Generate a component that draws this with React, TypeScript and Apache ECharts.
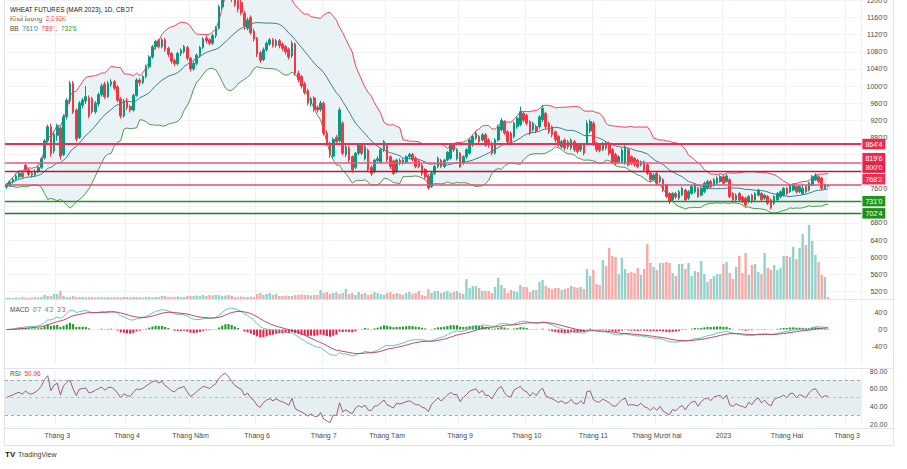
import React, { useEffect, useRef } from 'react';
import * as echarts from 'echarts';

// Daily candles: [open, close, low, high]
const candles: number[][] = [
  [764,769,760,773],[769,776,766,779],[776,782,772,786],[782,790,778,796],[788,796,784,800],[796,788,784,800],[815,804,800,818],[804,794,790,808],
  [796,792,786,800],[792,800,788,805],[800,810,796,814],[810,830,806,834],[832,872,828,876],[872,905,868,910],[905,842,835,912],[848,888,842,894],
  [885,905,872,912],[902,836,828,906],[840,928,836,934],[928,967,922,972],[965,1006,958,1012],[1006,940,935,1012],[944,876,870,948],[880,960,876,965],
  [955,967,948,972],[965,975,958,1000],[972,930,925,978],[970,940,935,975],[940,960,935,965],[958,980,952,985],[980,1000,975,1006],[1004,975,970,1010],
  [975,1006,972,1012],[1004,1010,998,1016],[1010,995,990,1014],[998,967,962,1002],[970,930,924,974],[930,965,926,970],[965,950,944,972],[952,944,938,956],
  [944,978,940,982],[978,1014,975,1018],[1014,1008,1000,1018],[1008,1022,1004,1026],[1022,1045,1018,1050],[1045,1068,1040,1072],[1068,1092,1064,1096],[1092,1104,1086,1108],
  [1106,1092,1088,1110],[1092,1108,1088,1112],[1108,1086,1080,1112],[1088,1074,1068,1092],[1076,1058,1052,1080],[1060,1052,1046,1064],[1052,1076,1048,1080],[1076,1084,1070,1088],
  [1080,1092,1076,1096],[1090,1065,1060,1094],[1065,1040,1034,1068],[1040,1053,1036,1058],[1053,1072,1048,1076],[1072,1090,1066,1094],[1090,1110,1086,1114],[1112,1106,1100,1118],
  [1108,1100,1095,1112],[1100,1118,1096,1122],[1118,1135,1112,1140],[1135,1185,1132,1190],[1185,1220,1180,1230],[1222,1245,1215,1260],[1245,1230,1222,1262],[1228,1210,1196,1238],
  [1215,1190,1185,1220],[1200,1180,1172,1210],[1195,1172,1166,1205],[1170,1140,1131,1176],[1135,1154,1130,1160],[1160,1125,1120,1165],[1128,1110,1104,1134],[1112,1075,1068,1115],
  [1078,1060,1054,1082],[1062,1085,1058,1090],[1085,1100,1080,1104],[1098,1108,1094,1112],[1108,1095,1090,1112],[1095,1106,1090,1110],[1106,1094,1088,1110],[1098,1088,1082,1102],
  [1092,1080,1074,1096],[1086,1068,1062,1090],[1070,1100,1066,1106],[1098,1030,1024,1102],[1030,1015,1008,1036],[1022,1000,994,1026],[1005,985,980,1010],[990,960,955,994],
  [958,970,952,975],[972,945,940,976],[950,944,938,955],[945,960,940,965],[960,890,884,964],[890,866,860,896],[866,840,832,870],[836,875,830,880],
  [880,870,864,886],[872,944,868,950],[913,843,838,918],[840,858,834,862],[855,827,822,860],[835,804,798,838],[810,843,806,846],[843,862,838,866],
  [862,843,838,866],[830,858,826,862],[850,805,800,854],[810,795,790,815],[800,827,796,830],[826,830,820,836],[822,851,818,856],[851,870,846,874],
  [860,827,822,864],[835,812,806,838],[825,796,792,828],[800,827,796,830],[827,820,815,831],[820,827,816,831],[822,835,818,838],[835,840,830,844],
  [840,828,824,844],[832,812,808,836],[825,812,808,828],[815,795,790,818],[805,788,783,808],[790,762,758,794],[765,796,762,800],[796,812,792,816],
  [812,831,808,835],[827,812,808,830],[812,827,808,830],[827,845,824,848],[831,862,828,866],[862,851,846,866],[830,851,826,855],[843,812,808,846],
  [820,835,816,838],[835,851,830,855],[843,874,840,878],[862,882,858,886],[878,890,874,894],[882,870,866,886],[874,886,870,890],[886,862,858,890],
  [874,862,856,878],[866,843,838,870],[843,874,840,878],[874,905,870,910],[898,920,894,925],[917,890,886,920],[893,870,865,897],[890,866,862,894],
  [882,913,878,917],[905,925,900,930],[910,940,906,952],[936,920,915,940],[932,913,908,936],[917,890,885,920],[898,913,894,917],[905,895,890,910],
  [905,928,900,932],[921,948,916,956],[936,905,900,940],[913,893,888,917],[905,886,880,908],[893,874,868,896],[882,862,858,886],[858,870,854,874],
  [874,855,850,878],[870,858,852,874],[855,874,850,878],[870,851,846,874],[862,847,842,866],[851,862,846,866],[862,843,838,866],[866,913,862,920],
  [895,917,890,922],[913,866,860,918],[866,851,846,870],[862,850,845,866],[852,866,848,870],[866,855,850,870],[866,843,838,870],[851,823,818,855],
  [840,820,815,844],[823,835,818,838],[823,850,820,855],[820,858,816,862],[851,816,812,855],[835,820,815,838],[831,816,812,834],[827,812,808,830],
  [816,823,812,826],[823,804,800,826],[816,796,792,820],[796,781,776,800],[781,792,778,796],[796,773,769,800],[777,788,773,792],[781,757,752,785],
  [769,742,738,772],[749,730,724,752],[734,749,730,752],[749,741,736,753],[738,753,734,757],[745,761,742,765],[757,734,730,760],[738,753,734,757],
  [749,765,746,769],[753,769,750,773],[761,742,738,765],[745,761,742,764],[753,773,750,777],[761,777,758,781],[777,765,761,781],[769,781,765,785],
  [773,785,770,789],[777,788,774,792],[788,773,769,792],[777,790,774,794],[781,742,738,785],[749,734,730,752],[734,745,730,749],[749,734,730,752],
  [741,730,726,744],[738,722,718,741],[730,742,726,745],[745,730,726,748],[734,749,730,752],[745,757,742,760],[749,734,730,752],[738,745,734,748],
  [742,726,722,745],[734,716,712,737],[726,742,722,745],[734,749,730,752],[742,753,738,756],[745,761,742,764],[761,749,745,764],[753,769,750,772],
  [757,769,754,772],[765,753,749,768],[753,765,750,768],[749,761,746,770],[765,753,749,768],[757,773,754,776],[769,788,766,792],[781,792,778,796],
  [788,777,773,792],[785,761,757,788],[761,769,758,772],[767,766,764,769]
];

// Volume in thousands of contracts
const volumesK: number[] = [
  1,1.5,1,1.5,1,2,1.5,1,1.5,2,1.5,2,
  4,3,3,5,5,8,3,
  2,2,3,2,2,
  2,1.5,2,2,1.5,2,2,1.5,2,1.5,2,2,1.5,2,2,1.5,2,2,2,1.5,2,2,1.5,2,2,
  3,3,2,
  2,2,2.5,2,2,
  3,3,3,3.5,3,
  4,3,4,3.5,4,4,3,3.5,4,3,
  2,2,2.5,2,2,2.5,2,
  5,6,4,5,6,4,5,
  3,3,3.5,3,3,
  4,4,4.5,4,4,3.5,4,4,
  9,
  6,7,5,6,7,5,6,
  10,
  5,6,4,7,5,6,4,5,7,6,5,4,6,7,5,6,5,4,6,7,5,6,
  8,
  4,3,10,
  6,8,8,6,7,8,6,
  7,8,6,5,
  20,11,13,13,11,8,8,8,6,12,21,14,11,6,9,8,7,14,12,12,7,9,9,17,19,13,11,10,11,11,9,10,11,13,12,11,12,10,
  30,23,29,15,14,39,33,51,43,42,25,41,30,26,27,26,31,24,30,55,36,32,29,36,36,37,36,26,23,35,35,30,36,23,28,27,38,25,
  17,20,23,25,25,35,37,26,20,32,43,26,46,24,34,35,27,25,46,31,29,34,29,31,43,43,42,52,40,51,65,54,74,58,44,37,24,22,2.1
];

const levelValues = [864.5, 819.75, 800, 768.25, 731, 702.5];
const levelLabels = ["864'4", "819'6", "800'0", "768'2", "731'0", "702'4"];

const monthTickIndex = [16, 38, 58, 79, 100, 120, 143, 164, 185, 205, 226, 246, 265];
const monthTickLabels = ['Tháng 3', 'Tháng 4', 'Tháng Năm', 'Tháng 6', 'Tháng 7', 'Tháng Tám', 'Tháng 9', 'Tháng 10', 'Tháng 11', 'Tháng Mười hai', '2023', 'Tháng Hai', 'Tháng 3'];

const titleText = 'WHEAT FUTURES (MAR 2023), 1D, CBOT';
const volumeLabel = 'Khối lượng';
const volumeLast = '2.096K';
const bbLegend = ["761'0", "789'1", "732'6"];
const macdLegend = ["0'7", "4'2", "3'3"];
const rsiLegend = '50.96';
// price-scale labels that sit under a level badge in the reference
const hiddenPriceLabels = [840, 800, 720];

// styling
const CATEGORY_COUNT = 270;
const UP = '#089981';
const DOWN = '#f23645';
const VUP = '#92d2cc';
const VDOWN = '#f7a9a7';
const FONT = 'Liberation Sans, Arial, sans-serif';
const AXIS_TXT = '#4a4a4a';
const GRID_LEFT = 4.9;
const GRID_W = 856.5;
const levelLineColors = ['#ee2f55', '#e8587a', '#b31b3f', '#e34f73', '#2b8a2b', '#1f7f2a'];
const levelBadgeColors = ['#ef2950', '#ea2a50', '#e42149', '#ee2c53', '#1c961c', '#1c8f1c'];
const levelWidths = [2, 1.6, 1.3, 1.6, 1.3, 1.3];
const levelBadgeShift = [0, -5, -4, -6, 0, 0];

function ema(arr: number[], n: number): number[] {
  const k = 2 / (n + 1);
  const out: number[] = [];
  arr.forEach((v, i) => out.push(i === 0 ? v : v * k + out[i - 1] * (1 - k)));
  return out;
}

export default function App() {
  const ref = useRef<HTMLDivElement>(null);
  useEffect(() => {
    if (!ref.current) return;
    const chart = echarts.init(ref.current, undefined, { renderer: 'svg' });

    const closes = candles.map(c => c[1]);
    const bbMid: number[] = [], bbUp: number[] = [], bbLo: number[] = [];
    closes.forEach((_, i) => {
      const w = closes.slice(Math.max(0, i - 19), i + 1);
      const m = w.reduce((a, b) => a + b, 0) / w.length;
      const sd = Math.sqrt(w.reduce((a, b) => a + (b - m) * (b - m), 0) / w.length);
      bbMid.push(m); bbUp.push(m + 2 * sd); bbLo.push(m - 2 * sd);
    });
    const e12 = ema(closes, 12), e26 = ema(closes, 26);
    const macd = closes.map((_, i) => e12[i] - e26[i]);
    const signal = ema(macd, 9);
    const hist = macd.map((v, i) => v - signal[i]);
    let seed = 0;
    for (let i = 1; i <= 14; i++) seed += Math.abs(closes[i] - closes[i - 1]);
    seed = seed / 28;
    let ag = seed, al = seed;
    const rsi: number[] = [];
    closes.forEach((c, i) => {
      if (i > 0) {
        const d = c - closes[i - 1];
        ag = (ag * 13 + Math.max(d, 0)) / 14;
        al = (al * 13 + Math.max(-d, 0)) / 14;
      }
      rsi.push(100 - 100 / (1 + ag / al));
    });

    const cats = Array.from({ length: CATEGORY_COUNT }, (_, i) => String(i));
    const tickSet = new Set(monthTickIndex);
    const intervalFn = (idx: number) => tickSet.has(idx);
    const labelOf = (v: string) => {
      const k = monthTickIndex.indexOf(Number(v));
      return k >= 0 ? monthTickLabels[k] : '';
    };
    const vSplit = { show: true, interval: intervalFn, lineStyle: { color: '#eef0f4', width: 1 } };

    const gridBase = { left: GRID_LEFT, width: GRID_W, containLabel: false, outerBoundsMode: 'none' } as any;
    const xBase = (gi: number, showLabel: boolean) => ({
      type: 'category', gridIndex: gi, data: cats, boundaryGap: true,
      axisLine: { show: false }, axisTick: { show: false },
      axisLabel: showLabel ? {
        show: true, interval: intervalFn, formatter: labelOf, fontSize: 7, color: AXIS_TXT,
        fontFamily: FONT, margin: 8, hideOverlap: false,
      } : { show: false },
      splitLine: gi === 1 ? { show: false } : vSplit,
    });
    const yLabel = (fmt: (v: number) => string) => ({
      show: true, inside: false, align: 'right', margin: 26, fontSize: 7, color: AXIS_TXT, fontFamily: FONT, formatter: fmt,
    });

    const sepColor = '#e0e3eb';
    const hline = (y: number) => ({ type: 'line', silent: true, shape: { x1: 4, y1: y, x2: 893, y2: y }, style: { stroke: sepColor, lineWidth: 1 } });
    const vline = (x: number) => ({ type: 'line', silent: true, shape: { x1: x, y1: 0, x2: x, y2: 445.5 }, style: { stroke: sepColor, lineWidth: 1 } });
    const rich = {
      g: { fill: '#4a4a4a', color: '#4a4a4a', fontSize: 6.5, fontFamily: FONT },
      r: { fill: '#f23645', color: '#f23645', fontSize: 6.5, fontFamily: FONT },
      b: { fill: '#2a87a0', color: '#2a87a0', fontSize: 6.5, fontFamily: FONT },
      gr: { fill: '#2e9a3a', color: '#2e9a3a', fontSize: 6.5, fontFamily: FONT },
      mg: { fill: '#1d9a2c', color: '#1d9a2c', fontSize: 6.5, fontFamily: FONT },
      mt: { fill: '#2a9d94', color: '#2a9d94', fontSize: 6.5, fontFamily: FONT },
      mr: { fill: '#e0406a', color: '#e0406a', fontSize: 6.5, fontFamily: FONT },
      t: { fill: '#131722', color: '#131722', fontSize: 6.4, fontFamily: FONT },
    };
    const rtxt = (x: number, y: number, text: string) => ({
      type: 'text', x, y, silent: true,
      style: { text, rich, fontSize: 6.5, fontFamily: FONT, verticalAlign: 'middle', align: 'left' },
    });
    const txt = (x: number, y: number, text: string, fill: string, size = 7, weight: any = 'normal') => ({
      type: 'text', x, y, silent: true,
      style: { text, fill, fontSize: size, fontFamily: FONT, fontWeight: weight, verticalAlign: 'middle', align: 'left' },
    });

    const option: any = {
      animation: false,
      backgroundColor: '#ffffff',
      textStyle: { fontFamily: FONT },
      grid: [
        { ...gridBase, top: 0, height: (1201 - 480) * 0.428 },
        { ...gridBase, top: 214, height: 85 },
        { ...gridBase, top: 295.5, height: 68 },
        { ...gridBase, top: 371, height: 53 },
      ],
      xAxis: [xBase(0, false), xBase(1, false), xBase(2, false), xBase(3, true)],
      yAxis: [
        {
          type: 'value', gridIndex: 0, position: 'right', min: 480, max: 1201, interval: 40, scale: false,
          axisLine: { show: false }, axisTick: { show: false },
          axisLabel: yLabel((v: number) => (v % 40 === 0 && v >= 500 && hiddenPriceLabels.indexOf(v) < 0 ? `${v}'0` : '')),
          splitLine: { show: true, showMinLine: false, lineStyle: { color: '#f3f4f7', width: 1 } },
        },
        { type: 'value', gridIndex: 1, min: 0, max: 85, show: false, splitLine: { show: false } },
        {
          type: 'value', gridIndex: 2, position: 'right', min: -80, max: 80, interval: 40,
          axisLine: { show: false }, axisTick: { show: false },
          axisLabel: yLabel((v: number) => (Math.abs(v) <= 40 ? `${v}'0` : '')),
          splitLine: { show: false },
        },
        {
          type: 'value', gridIndex: 3, position: 'right', min: 20, max: 80, interval: 20,
          axisLine: { show: false }, axisTick: { show: false },
          axisLabel: yLabel((v: number) => v.toFixed(2)),
          splitLine: { show: false },
        },
      ],
      series: [
        {
          type: 'line', xAxisIndex: 0, yAxisIndex: 0, data: bbLo, stack: 'bb', symbol: 'none', silent: true,
          lineStyle: { width: 0, opacity: 0 }, z: 1,
        },
        {
          type: 'line', xAxisIndex: 0, yAxisIndex: 0, data: bbUp.map((u, i) => u - bbLo[i]), stack: 'bb', symbol: 'none', silent: true,
          lineStyle: { width: 0, opacity: 0 }, areaStyle: { color: '#e9f2f4', opacity: 1 }, z: 1,
        },
        { type: 'line', xAxisIndex: 0, yAxisIndex: 0, data: bbUp, symbol: 'none', silent: true, lineStyle: { color: '#e8304f', width: 0.9 }, z: 2 },
        { type: 'line', xAxisIndex: 0, yAxisIndex: 0, data: bbMid, symbol: 'none', silent: true, lineStyle: { color: '#2f6f84', width: 0.9 }, z: 2 },
        { type: 'line', xAxisIndex: 0, yAxisIndex: 0, data: bbLo, symbol: 'none', silent: true, lineStyle: { color: '#3b8f3b', width: 0.9 }, z: 2 },
        {
          type: 'candlestick', xAxisIndex: 0, yAxisIndex: 0, data: candles, barWidth: '68%', clip: true, z: 4,
          itemStyle: { color: UP, color0: DOWN, borderColor: UP, borderColor0: DOWN, borderWidth: 1 },
          markLine: {
            symbol: ['none', 'none'], silent: true, animation: false,
            data: levelValues.map((v, i) => ({
              yAxis: v,
              lineStyle: { color: levelLineColors[i], width: levelWidths[i], type: 'solid' },
              label: {
                show: true, position: 'end', formatter: levelLabels[i], color: '#ffffff', fontSize: 7, fontFamily: FONT,
                backgroundColor: levelBadgeColors[i], padding: [2, 3, 1.5, 3], distance: 1, offset: [0, levelBadgeShift[i]],
              },
            })),
          },
        },
        {
          type: 'bar', xAxisIndex: 1, yAxisIndex: 1, barWidth: '75%', silent: true, z: 1,
          data: volumesK.map((v, i) => ({ value: v, itemStyle: { color: candles[i][1] >= candles[i][0] ? VUP : VDOWN } })),
        },
        {
          type: 'bar', xAxisIndex: 2, yAxisIndex: 2, barWidth: '65%', silent: true,
          data: hist.map(v => ({ value: v, itemStyle: { color: v >= 0 ? '#1d9a2c' : '#ee1f48' } })),
        },
        { type: 'line', xAxisIndex: 2, yAxisIndex: 2, data: macd, symbol: 'none', silent: true, lineStyle: { color: '#55bdb2', width: 0.9 } },
        { type: 'line', xAxisIndex: 2, yAxisIndex: 2, data: signal, symbol: 'none', silent: true, lineStyle: { color: '#b5325e', width: 0.9 } },
        {
          type: 'line', xAxisIndex: 3, yAxisIndex: 3, data: rsi, symbol: 'none', silent: true, clip: false,
          lineStyle: { color: '#9a4a72', width: 0.9 }, z: 3,
          markArea: { silent: true, itemStyle: { color: '#e5eff2' }, data: [[{ yAxis: 70 }, { yAxis: 30 }]] },
          markLine: {
            symbol: ['none', 'none'], silent: true, label: { show: false },
            data: [70, 50, 30].map(v => ({ yAxis: v, lineStyle: { color: v === 50 ? '#b2b5be' : '#8f929b', type: [3, 3], width: 0.8 } })),
          },
        },
      ],
      graphic: [
        hline(299.5), hline(368.5), hline(428.5), hline(445.5),
        vline(4.5), vline(893.5),
        rtxt(10, 9, `{t|${titleText}}`),
        rtxt(10, 18.5, `{g|${volumeLabel}}  {r|${volumeLast}}`),
        rtxt(10, 28, `{g|BB}  {b|${bbLegend[0]}}  {r|${bbLegend[1]}}  {gr|${bbLegend[2]}}`),
        rtxt(10, 309, `{g|MACD}  {mg|${macdLegend[0]}}  {mt|${macdLegend[1]}}  {mr|${macdLegend[2]}}`),
        rtxt(10, 373, `{g|RSI}  {r|${rsiLegend}}`),
        txt(5, 454.5, 'TV', '#131722', 8, 900),
        txt(18, 454.5, 'TradingView', '#3a3a3a', 7),
      ],
    };
    chart.setOption(option);
    return () => chart.dispose();
  }, []);
  return <div ref={ref} style={{ position: 'absolute', left: 0, top: 0, width: 907, height: 469, background: '#fff' }} />;
}
